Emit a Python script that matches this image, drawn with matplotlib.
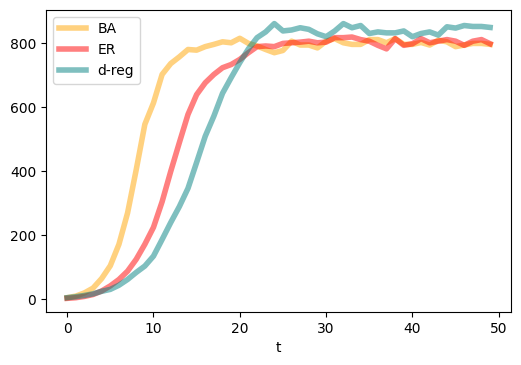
import numpy as np
import matplotlib
matplotlib.use("Agg")
import matplotlib.pyplot as plt

t = np.arange(50)

ba = [5, 10, 20, 35, 65, 105, 172, 270, 405, 547,
      614, 703, 737, 758, 781, 779, 790, 797, 805, 802,
      816, 800, 792, 781, 771, 778, 807, 795, 795, 786,
      807, 815, 802, 797, 797, 812, 812, 802, 815, 797,
      797, 803, 795, 810, 805, 790, 795, 800, 800, 797]

er = [3, 5, 9, 15, 26, 42, 62, 88, 125, 172,
      225, 305, 400, 490, 578, 640, 677, 703, 724, 734,
      750, 771, 790, 792, 790, 800, 802, 804, 807, 802,
      804, 818, 818, 820, 812, 807, 794, 783, 815, 794,
      799, 815, 802, 807, 812, 807, 794, 807, 812, 799]

dreg = [5, 8, 12, 17, 25, 31, 44, 62, 84, 104,
        135, 187, 240, 290, 347, 428, 510, 573, 644, 693,
        740, 783, 818, 836, 862, 839, 842, 849, 844, 830,
        821, 839, 862, 849, 856, 831, 836, 833, 833, 839,
        821, 831, 836, 826, 852, 848, 856, 853, 853, 850]

fig = plt.figure(figsize=(5.21, 3.65), dpi=100)
ax = fig.add_axes([0.0883, 0.145, 0.893, 0.828])

ax.plot(t, ba, color='orange', alpha=0.5, lw=4, label="BA")
ax.plot(t, er, color='red', alpha=0.5, lw=4, label="ER")
ax.plot(t, dreg, color='teal', alpha=0.5, lw=4, label="d-reg")

ax.set_xlabel("t")
ax.set_xticks([0, 10, 20, 30, 40, 50])
ax.set_yticks([0, 200, 400, 600, 800])
ax.legend(loc='upper left')

fig.savefig("out.png", dpi=100)
